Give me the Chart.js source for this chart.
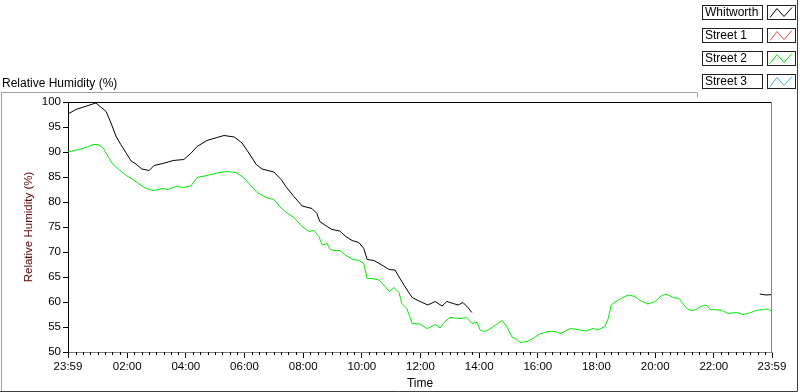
<!DOCTYPE html>
<html>
<head>
<meta charset="utf-8">
<script src="https://cdn.jsdelivr.net/npm/chart.js@4/dist/chart.umd.min.js"></script>
<style>
  html, body { margin: 0; padding: 0; background: #fff; }
  #wrap { width: 800px; height: 392px; }
</style>
</head>
<body>
<div id="wrap"><canvas id="chart"></canvas></div>
<script>
// Temps en minutes depuis minuit (-1 = 23:59 la veille, 1439 = 23:59)
const whitworthTimes = [-1, 15, 56, 77, 87, 97, 107, 118, 128, 138, 150, 165, 175, 193, 214, 236, 251, 263, 283, 304, 318, 339, 355, 369, 384, 396, 420, 435, 447, 461, 478, 498, 508, 514, 529, 539, 555, 566, 580, 594, 604, 611, 625, 641, 656, 668, 678, 688, 703, 719, 735, 750, 764, 774, 787, 797, 807, 817, 825, 1000, 1414, 1427, 1439];
const whitworthValues = [97.6, 98.5, 99.8, 98.1, 95.8, 93.2, 91.5, 89.8, 88.2, 87.6, 86.6, 86.3, 87.3, 87.7, 88.3, 88.5, 89.8, 91.1, 92.3, 92.9, 93.3, 93.0, 91.8, 89.8, 87.5, 86.6, 86.0, 84.5, 82.8, 81.1, 79.2, 78.7, 77.7, 76.1, 75.1, 74.5, 74.2, 73.2, 72.3, 71.9, 70.7, 68.5, 68.3, 67.4, 66.5, 66.4, 64.7, 63.1, 60.9, 60.1, 59.4, 60.1, 59.2, 60.1, 59.7, 59.4, 59.9, 58.9, 57.9, null, 61.6, 61.4, 61.5];

const street2Times = [-1, 21, 36, 50, 60, 71, 81, 91, 103, 118, 132, 144, 159, 173, 193, 204, 220, 236, 251, 263, 283, 304, 324, 343, 359, 373, 386, 404, 420, 435, 447, 461, 478, 492, 502, 512, 519, 529, 535, 545, 555, 566, 580, 594, 604, 611, 621, 635, 645, 656, 666, 676, 682, 692, 703, 719, 733, 739, 750, 760, 770, 780, 801, 815, 825, 836, 842, 852, 866, 887, 897, 907, 917, 924, 938, 950, 964, 981, 995, 1007, 1026, 1042, 1059, 1073, 1083, 1097, 1104, 1110, 1120, 1130, 1145, 1159, 1169, 1185, 1200, 1212, 1222, 1237, 1249, 1259, 1267, 1279, 1294, 1304, 1314, 1335, 1349, 1365, 1380, 1396, 1406, 1421, 1431, 1439];
const street2Values = [90.0, 90.5, 90.9, 91.5, 91.5, 90.8, 89.1, 87.5, 86.5, 85.3, 84.5, 83.6, 82.7, 82.3, 82.7, 82.5, 83.1, 82.9, 83.3, 84.9, 85.3, 85.8, 86.1, 85.9, 84.8, 83.3, 81.9, 80.9, 80.5, 78.8, 77.8, 76.9, 75.1, 74.1, 74.3, 73.1, 71.4, 71.7, 70.5, 70.3, 70.3, 69.4, 68.6, 68.3, 67.7, 64.7, 64.7, 64.4, 63.4, 62.1, 62.9, 61.9, 59.7, 58.7, 55.7, 55.6, 54.7, 54.9, 55.5, 54.8, 56.1, 56.9, 56.7, 56.9, 55.7, 55.9, 54.4, 54.1, 54.9, 56.3, 55.0, 53.0, 52.5, 51.9, 52.1, 52.7, 53.6, 54.1, 54.1, 53.7, 54.7, 54.5, 54.2, 54.7, 54.4, 55.1, 56.7, 59.4, 60.1, 60.7, 61.4, 61.1, 60.3, 59.6, 60.1, 61.2, 61.6, 60.9, 60.7, 59.4, 58.5, 58.3, 59.1, 59.4, 58.5, 58.4, 57.7, 57.9, 57.5, 57.9, 58.3, 58.5, 58.6, 58.1];

// Graduations de l'axe X
const majorTicks = [-1, 120, 240, 360, 480, 600, 720, 840, 960, 1080, 1200, 1320, 1439];
const seriesNames = ["Whitworth", "Street 1", "Street 2", "Street 3"];
const seriesColors = ["#000000", "#e84848", "#00ee00", "#40b0f0"];

function toPoints(times, values) {
    return times.map((t, i) => ({ x: t, y: values[i] }));
}

function timeLabel(v) {
    if (v < 0 || v >= 1439) return "23:59";
    const h = Math.floor(v / 60);
    return (h < 10 ? "0" : "") + h + ":00";
}

const font = "Liberation Sans";

// Cadre, bordures et légende
const framePlugin = {
    id: 'frame',
    beforeDraw(chart) {
        const ctx = chart.ctx;
        ctx.save();
        ctx.fillStyle = "#fff";
        ctx.fillRect(0, 0, chart.width, chart.height);
        ctx.restore();
    },
    afterDraw(chart) {
        const ctx = chart.ctx;
        const a = chart.chartArea;
        const xs = chart.scales.x;
        ctx.save();
        ctx.lineWidth = 1;

        // cadre extérieur
        ctx.strokeStyle = "#a0a0a0";
        ctx.beginPath();
        ctx.moveTo(1.5, 391); ctx.lineTo(1.5, 92.5); ctx.lineTo(697.5, 92.5); ctx.lineTo(697.5, 97.5);
        ctx.stroke();
        ctx.strokeStyle = "#404040";
        ctx.beginPath();
        ctx.moveTo(0, 391.5); ctx.lineTo(797.5, 391.5); ctx.lineTo(797.5, 0);
        ctx.stroke();

        // bord haut et droit de la zone de tracé
        ctx.strokeStyle = "#000";
        ctx.beginPath();
        ctx.moveTo(a.left, a.top + 0.5); ctx.lineTo(a.right, a.top + 0.5);
        ctx.stroke();
        ctx.strokeStyle = "#808080";
        ctx.beginPath();
        ctx.moveTo(a.right - 0.5, a.top); ctx.lineTo(a.right - 0.5, a.bottom);
        ctx.stroke();

        // petites graduations, toutes les 15 minutes
        ctx.strokeStyle = "#000";
        ctx.beginPath();
        for (let m = 15; m < 1439; m += 15) {
            if (m % 120 === 0) continue;
            const px = Math.round(xs.getPixelForValue(m)) + 0.5;
            ctx.moveTo(px, a.bottom);
            ctx.lineTo(px, a.bottom + 3);
        }
        ctx.stroke();

        // légende
        ctx.font = "12px '" + font + "'";
        ctx.textBaseline = "middle";
        chart.data.datasets.forEach((ds, i) => {
            const y = 4.5 + i * 23.3;
            const yy = Math.round(y) + 0.5;
            ctx.strokeStyle = "#202020";
            ctx.strokeRect(702.5, yy, 60, 14);
            ctx.strokeRect(767.5, yy, 28, 14);
            ctx.fillStyle = "#000";
            ctx.fillText(ds.label, 705, yy + 7.5);
            ctx.strokeStyle = ds.borderColor;
            ctx.beginPath();
            ctx.moveTo(770, yy + 12);
            ctx.lineTo(777, yy + 3);
            ctx.lineTo(784, yy + 11);
            ctx.lineTo(792, yy + 2);
            ctx.stroke();
        });
        ctx.restore();
    }
};

new Chart(document.getElementById("chart"), {
    type: 'line',
    data: {
        datasets: [
            { label: seriesNames[0], data: toPoints(whitworthTimes, whitworthValues), borderColor: seriesColors[0] },
            { label: seriesNames[1], data: [], borderColor: seriesColors[1] },
            { label: seriesNames[2], data: toPoints(street2Times, street2Values), borderColor: seriesColors[2] },
            { label: seriesNames[3], data: [], borderColor: seriesColors[3] }
        ]
    },
    options: {
        responsive: true,
        maintainAspectRatio: false,
        animation: false,
        spanGaps: false,
        elements: {
            line: { borderWidth: 1, tension: 0 },
            point: { radius: 0 }
        },
        layout: { padding: { top: 102, right: 28, left: 0, bottom: 0 } },
        plugins: {
            legend: { display: false },
            tooltip: { enabled: false }
        },
        scales: {
            x: {
                type: 'linear',
                min: -1,
                max: 1439,
                afterBuildTicks(scale) {
                    scale.ticks = majorTicks.map(v => ({ value: v }));
                },
                afterFit(scale) { scale.height = 40; },
                ticks: {
                    callback: v => timeLabel(v),
                    color: "#000",
                    font: { family: font, size: 11.5 },
                    padding: 2,
                    maxRotation: 0,
                    autoSkip: false
                },
                grid: { drawOnChartArea: false, tickLength: 6, color: "#000" },
                border: { color: "#808080" },
                title: {
                    display: true,
                    text: "Time",
                    color: "#000",
                    font: { family: font, size: 12 },
                    padding: { top: 0, bottom: 1 }
                }
            },
            y: {
                min: 50,
                max: 100,
                afterFit(scale) { scale.width = 68; },
                ticks: {
                    stepSize: 5,
                    color: "#000",
                    font: { family: font, size: 11.5 },
                    padding: 2
                },
                grid: { drawOnChartArea: false, tickLength: 5, color: "#000" },
                border: { color: "#000" },
                title: {
                    display: true,
                    text: "Relative Humidity (%)",
                    color: "#600000",
                    font: { family: font, size: 11.5 },
                    padding: { top: 22, bottom: 0 }
                }
            }
        }
    },
    plugins: [framePlugin, {
        // Titre en haut à gauche
        id: 'topTitle',
        afterDraw(chart) {
            const ctx = chart.ctx;
            ctx.save();
            ctx.font = "12px '" + font + "'";
            ctx.fillStyle = "#000";
            ctx.textBaseline = "middle";
            ctx.fillText("Relative Humidity (%)", 2, 84);
            ctx.restore();
        }
    }]
});
</script>
</body>
</html>
